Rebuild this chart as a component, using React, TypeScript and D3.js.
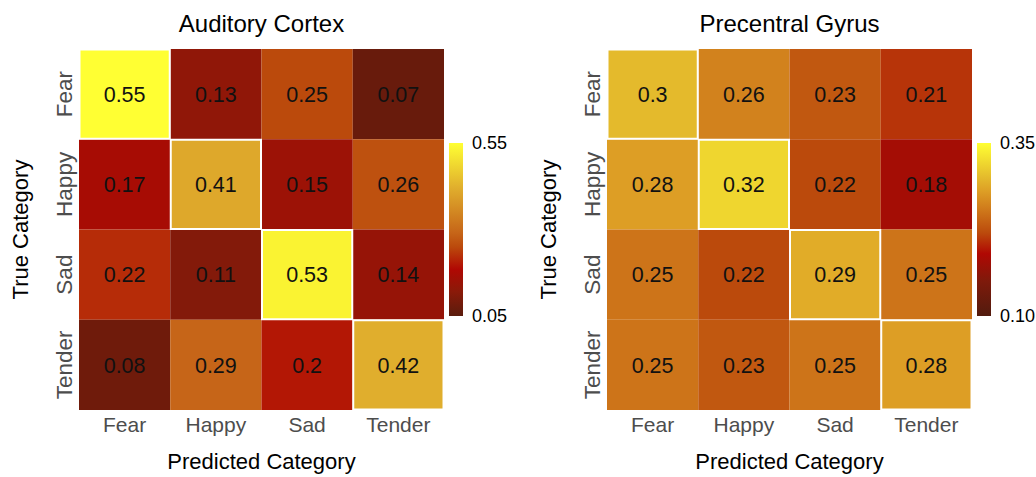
import React from "react";
import * as d3 from "d3";

const categories = ["Fear", "Happy", "Sad", "Tender"];

const auditoryValues = [
  [0.55, 0.13, 0.25, 0.07],
  [0.17, 0.41, 0.15, 0.26],
  [0.22, 0.11, 0.53, 0.14],
  [0.08, 0.29, 0.2, 0.42],
];

const precentralValues = [
  [0.3, 0.26, 0.23, 0.21],
  [0.28, 0.32, 0.22, 0.18],
  [0.25, 0.22, 0.29, 0.25],
  [0.25, 0.23, 0.25, 0.28],
];

const auditoryLegendTicks = ["0.05", "0.55"];
const precentralLegendTicks = ["0.10", "0.35"];

const auditoryStops = [0.05, 0.12, 0.185, 0.25, 0.29, 0.42, 0.55];
const auditoryColors = ["#5a1c0d", "#8a1a09", "#b00803", "#bb4a0c", "#c66518", "#e0ae2d", "#ffff33"];

const precentralStops = [0.1, 0.15, 0.19, 0.22, 0.25, 0.28, 0.3, 0.35];
const precentralColors = ["#521b0e", "#7e1a0b", "#b00803", "#bb4a0c", "#cd7419", "#dd9e25", "#e4ba2c", "#ffff33"];

const FONT = "'Liberation Sans', Arial, Helvetica, sans-serif";

type PanelProps = {
  id: string;
  title: string;
  values: number[][];
  stops: number[];
  colors: string[];
  legendTicks: string[];
  left: number;
};

function Panel({ id, title, values, stops, colors, legendTicks, left }: PanelProps) {
  const top = 49;
  const width = 365;
  const height = 361;
  const x = d3.scaleBand<string>().domain(categories).range([left, left + width]).padding(0);
  const y = d3.scaleBand<string>().domain(categories).range([top, top + height]).padding(0);
  const color = d3
    .scaleLinear<string>()
    .domain(stops)
    .range(colors)
    .interpolate(d3.interpolateRgb)
    .clamp(true);

  const lo = stops[0];
  const hi = stops[stops.length - 1];
  const legX = left + width + 5;
  const legW = 14;
  const legTop = 143;
  const legBottom = 316;
  const legY = d3.scaleLinear().domain([lo, hi]).range([legBottom, legTop]);
  const cx = left + width / 2;
  const cy = top + height / 2;

  const cells: { r: string; c: string; v: number; diag: boolean }[] = [];
  values.forEach((row, i) =>
    row.forEach((v, j) => cells.push({ r: categories[i], c: categories[j], v, diag: i === j }))
  );

  return (
    <g>
      <defs>
        <linearGradient id={id} x1="0" y1="1" x2="0" y2="0">
          {stops.map((s, i) => (
            <stop key={i} offset={(s - lo) / (hi - lo)} stopColor={colors[i]} />
          ))}
        </linearGradient>
      </defs>
      <text x={cx} y={32} textAnchor="middle" fontSize={24} fontFamily={FONT} fill="#000">
        {title}
      </text>
      {cells.map((d, k) => (
        <rect
          key={"c" + k}
          x={x(d.c)}
          y={y(d.r)}
          width={x.bandwidth()}
          height={y.bandwidth()}
          fill={color(d.v)}
        />
      ))}
      {cells
        .filter((d) => d.diag)
        .map((d, k) => (
          <rect
            key={"d" + k}
            x={(x(d.c) as number) + 0.5}
            y={(y(d.r) as number) + 0.5}
            width={x.bandwidth() - 1}
            height={y.bandwidth() - 1}
            fill="none"
            stroke="#fff"
            strokeWidth={2}
          />
        ))}
      {cells.map((d, k) => (
        <text
          key={"t" + k}
          x={(x(d.c) as number) + x.bandwidth() / 2}
          y={(y(d.r) as number) + y.bandwidth() / 2}
          dy="0.36em"
          textAnchor="middle"
          fontSize={21.5}
          fontFamily={FONT}
          fill="#111"
        >
          {String(d.v)}
        </text>
      ))}
      {categories.map((c) => (
        <text
          key={"x" + c}
          x={(x(c) as number) + x.bandwidth() / 2}
          y={432}
          textAnchor="middle"
          fontSize={21}
          fontFamily={FONT}
          fill="#4d4d4d"
        >
          {c}
        </text>
      ))}
      {categories.map((c) => {
        const yy = (y(c) as number) + y.bandwidth() / 2;
        const xx = left - 7;
        return (
          <text
            key={"y" + c}
            transform={`translate(${xx},${yy}) rotate(-90)`}
            textAnchor="middle"
            fontSize={22.5}
            fontFamily={FONT}
            fill="#4d4d4d"
          >
            {c}
          </text>
        );
      })}
      <text x={cx} y={469} textAnchor="middle" fontSize={22} fontFamily={FONT} fill="#000">
        Predicted Category
      </text>
      <text
        transform={`translate(${left - 51},${cy}) rotate(-90)`}
        textAnchor="middle"
        fontSize={22}
        fontFamily={FONT}
        fill="#000"
      >
        True Category
      </text>
      <rect x={legX} y={legTop} width={legW} height={legBottom - legTop} fill={`url(#${id})`} />
      {legendTicks.map((t) => (
        <text
          key={"l" + t}
          x={legX + legW + 9}
          y={legY(+t)}
          dy="0.36em"
          fontSize={18}
          fontFamily={FONT}
          fill="#000"
        >
          {t}
        </text>
      ))}
    </g>
  );
}

export default function App() {
  return (
    <svg
      width={1036}
      height={477}
      style={{ position: "absolute", left: 0, top: 0, background: "#fff" }}
    >
      <rect width={1036} height={477} fill="#fff" />
      <Panel
        id="gradA"
        title="Auditory Cortex"
        values={auditoryValues}
        stops={auditoryStops}
        colors={auditoryColors}
        legendTicks={auditoryLegendTicks}
        left={79}
      />
      <Panel
        id="gradP"
        title="Precentral Gyrus"
        values={precentralValues}
        stops={precentralStops}
        colors={precentralColors}
        legendTicks={precentralLegendTicks}
        left={607}
      />
    </svg>
  );
}
